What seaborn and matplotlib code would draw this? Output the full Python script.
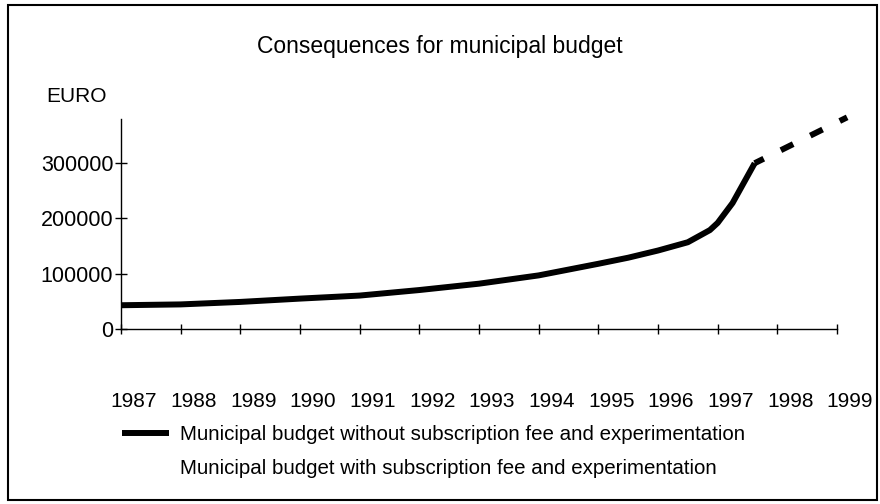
import matplotlib
matplotlib.use("Agg")
import matplotlib.pyplot as plt
import matplotlib.transforms as mtransforms
from matplotlib.lines import Line2D
from matplotlib.patches import Rectangle
import seaborn as sns
import pandas as pd

# ---- data ----
years_solid = [1987, 1988, 1989, 1990, 1991, 1992, 1993, 1994, 1995,
               1995.5, 1996, 1996.5, 1996.87, 1997, 1997.25, 1997.62]
budget_without = [43000, 44500, 49000, 55000, 60500, 70500, 82000, 97000,
                  118000, 129000, 142000, 157000, 179000, 192000, 228000, 300000]
years_dashed = [1997.62, 1999.17]
budget_with = [300000, 383000]

tick_years = list(range(1987, 2000))
y_ticks = [0, 100000, 200000, 300000]

title = "Consequences for municipal budget"
y_label = "EURO"
label_without = "Municipal budget without subscription fee and experimentation"
label_with = "Municipal budget with subscription fee and experimentation"

df_solid = pd.DataFrame({"year": years_solid, "value": budget_without})
df_dash = pd.DataFrame({"year": years_dashed, "value": budget_with})

sns.set_theme(style="white")
plt.rcParams["font.family"] = ["Liberation Sans", "DejaVu Sans"]

fig = plt.figure(figsize=(8.8, 5.04), dpi=100)
fig.patch.set_facecolor("white")
ax = fig.add_axes([121 / 880, 1 - 329 / 504, (837 - 121) / 880, (329 - 119) / 504])
ax.set_facecolor("white")

lw = 4.3
sns.lineplot(data=df_solid, x="year", y="value", ax=ax, color="black",
             linewidth=lw, sort=False, solid_capstyle="butt",
             solid_joinstyle="round", clip_on=False)
sns.lineplot(data=df_dash, x="year", y="value", ax=ax, color="black",
             linewidth=lw, sort=False, linestyle=(0.6, (2.3, 3.2)),
             dash_capstyle="butt", clip_on=False)

ax.set_xlim(1987, 1999)
ax.set_ylim(0, 380000)
ax.set_xticks(tick_years)
ax.set_xticklabels([str(y) for y in tick_years])
ax.set_yticks(y_ticks)
ax.set_yticklabels([str(v) for v in y_ticks])
ax.set_xlabel("")
ax.set_ylabel("")

for s in ["top", "right"]:
    ax.spines[s].set_visible(False)
for s in ["left", "bottom"]:
    ax.spines[s].set_color("black")
    ax.spines[s].set_linewidth(1.0)

ax.tick_params(axis="x", direction="inout", length=7, width=1.0, color="black",
               labelsize=15, pad=42, labelcolor="black")
ax.tick_params(axis="y", direction="inout", length=8, width=1.0, color="black",
               labelsize=15.5, pad=1.5, labelcolor="black")
ax.tick_params(bottom=True, left=True)

# shift x tick labels to the right as in the reference
offset = mtransforms.ScaledTranslation(13 / 100, 0, fig.dpi_scale_trans)
for lab in ax.get_xticklabels():
    lab.set_transform(lab.get_transform() + offset)

fig.text(0.5, 1 - 46 / 504, title, ha="center", va="center", fontsize=16.5,
         color="black")
fig.text(77 / 880, 1 - 97 / 504, y_label, ha="center", va="center",
         fontsize=15, color="black")

handles = [Line2D([], [], color="black", linewidth=lw, solid_capstyle="butt"),
           Line2D([], [], color="none", linewidth=lw)]
leg = fig.legend(handles, [label_without, label_with], loc="upper left",
                 bbox_to_anchor=(122 / 880, 1 - 425 / 504), frameon=False,
                 fontsize=14.8, handlelength=2.3, handletextpad=0.5,
                 labelspacing=0.75, borderpad=0, borderaxespad=0)
for t in leg.get_texts():
    t.set_color("black")

fig.patches.append(Rectangle((8 / 880, 1 - 500 / 504), (877 - 8) / 880,
                             (500 - 5) / 504, transform=fig.transFigure,
                             fill=False, edgecolor="black", linewidth=1.5))

fig.savefig("out.png", dpi=100, facecolor="white")
